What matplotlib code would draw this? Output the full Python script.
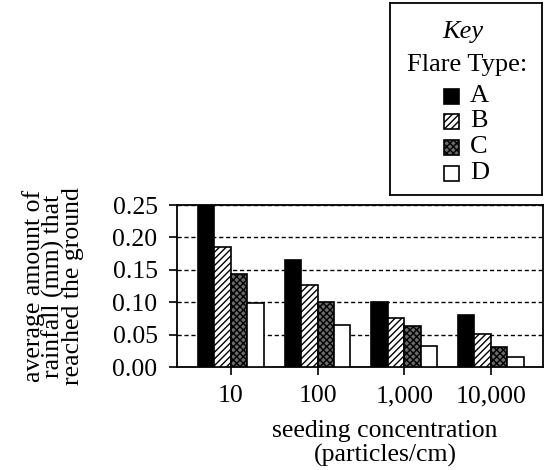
import numpy as np
import matplotlib
matplotlib.use("Agg")
from matplotlib import pyplot as plt
from matplotlib.patches import Rectangle

plt.rcParams['font.family'] = ['Liberation Serif', 'DejaVu Serif']
plt.rcParams['hatch.linewidth'] = 1.0

concentrations = ['10', '100', '1,000', '10,000']
flare_types = ['A', 'B', 'C', 'D']
rain_a = [0.25, 0.165, 0.101, 0.081]
rain_b = [0.185, 0.126, 0.076, 0.051]
rain_c = [0.143, 0.101, 0.064, 0.031]
rain_d = [0.098, 0.065, 0.032, 0.016]

series = [rain_a, rain_b, rain_c, rain_d]
styles = [dict(facecolor='black', hatch=None),
          dict(facecolor='white', hatch='/////'),
          dict(facecolor='#6a6a6a', hatch='xxxxx'),
          dict(facecolor='white', hatch=None)]

fig = plt.figure(figsize=(5.48, 4.70), dpi=100)
ax = fig.add_axes([177 / 548, 103 / 470, 366 / 548, 162 / 470])

x = np.arange(len(concentrations))
w = 0.19
for i, (vals, st) in enumerate(zip(series, styles)):
    ax.bar(x + (i - 1.5) * w, vals, w, edgecolor='black', linewidth=1.2,
           zorder=3, **st)

ax.set_xlim(-0.62, 3.60)
ax.set_ylim(0, 0.25)
ax.set_yticks([0, 0.05, 0.10, 0.15, 0.20, 0.25])
ax.set_yticklabels(['0.00', '0.05', '0.10', '0.15', '0.20', '0.25'])
ax.set_xticks(x)
ax.set_xticklabels(concentrations)
ax.tick_params(axis='both', labelsize=18.5, direction='out', length=6,
               width=1.2, colors='black')
ax.tick_params(axis='y', pad=8)
ax.tick_params(axis='x', pad=7)
for s in ax.spines.values():
    s.set_linewidth(1.3)
ax.yaxis.grid(True, linestyle=(0, (3, 2)), color='black', linewidth=1.0,
              zorder=0)
ax.set_axisbelow(True)

ax.set_xlabel('seeding concentration\n(particles/cm)', fontsize=18.5,
              linespacing=1.1)
ax.xaxis.set_label_coords((385 - 177) / 366, -0.33)
ax.set_ylabel('average amount of\nrainfall (mm) that\nreached the ground',
              fontsize=18.5, linespacing=0.8)
ax.yaxis.set_label_coords(-0.255, 0.5)

# key box
kax = fig.add_axes([390 / 548, (470 - 195) / 470, 152 / 548, 192 / 470])
kax.set_xlim(0, 152)
kax.set_ylim(192, 0)
kax.set_xticks([])
kax.set_yticks([])
for s in kax.spines.values():
    s.set_linewidth(1.3)
kax.text(73, 29, 'Key', style='italic', fontsize=19, ha='center', va='center')
kax.text(77, 62, 'Flare Type:', fontsize=19, ha='center', va='center')
rows = [93, 118, 144, 170]
for yy, lab, st in zip(rows, flare_types, styles):
    kax.add_patch(Rectangle((54, yy - 7), 15, 15, edgecolor='black',
                            linewidth=1.2, **st))
    kax.text(80, yy, lab, fontsize=19, ha='left', va='center')

plt.savefig("out.png")
